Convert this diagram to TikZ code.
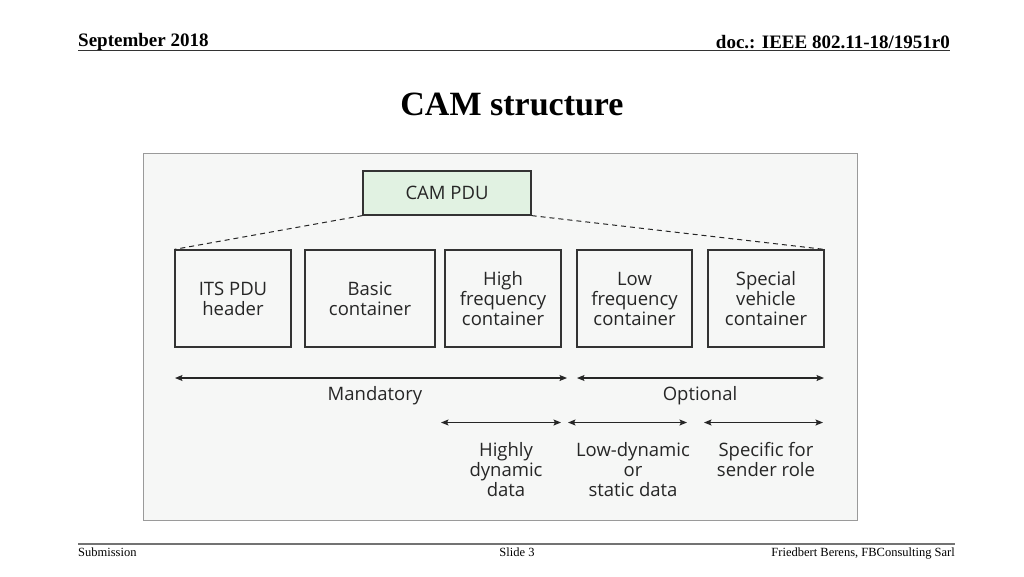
\documentclass[tikz,border=0pt]{standalone}
\usepackage{fontspec}
\setmainfont{Liberation Serif}
\newfontfamily\diagfont{Open Sans}
\usetikzlibrary{arrows.meta}
\definecolor{framefill}{HTML}{F6F7F6}
\definecolor{framedraw}{HTML}{9A9A9A}
\definecolor{pdufill}{HTML}{E1F2E2}
\definecolor{boxdraw}{HTML}{333333}
\tikzset{
  cbox/.style={draw=boxdraw, line width=1.2pt, fill=framefill, inner sep=0pt, align=center,
    font=\diagfont\fontsize{18.5}{20}\selectfont, text=black!85},
  lbl/.style={inner sep=0pt, align=center, font=\diagfont\fontsize{18.5}{20}\selectfont, text=black!85},
  dbl/.style={line width=1.1pt, draw=black!85, {Stealth[length=7.5pt,width=6pt,inset=1.5pt]}-{Stealth[length=7.5pt,width=6pt,inset=1.5pt]}},
  dash line/.style={dashed, dash pattern=on 5pt off 4pt, line width=1pt, draw=black!85},
}
\begin{document}
\begin{tikzpicture}[x=1pt,y=-1pt]
\useasboundingbox (0,0) rectangle (1024,576);
\fill[white] (0,0) rectangle (1024,576);
% header
\node[anchor=base west, inner sep=0pt, font=\bfseries\fontsize{19}{22}\selectfont] (sep) at (78,46) {September 2018};
\node[anchor=base east, inner sep=0pt, font=\bfseries\fontsize{19}{22}\selectfont] (doc) at (950,48) {doc.: IEEE 802.11-18/1951r0};
\coordinate (hl) at (78,50.5);
\coordinate (hr) at (950,50.5);
\draw[line width=1pt, black!80] (hl) -- (hr);
\node[anchor=base, inner sep=0pt, font=\bfseries\fontsize{34}{36}\selectfont] (title) at (512,115) {CAM structure};
% frame
\draw[draw=framedraw, fill=framefill, line width=1pt] (143,153) rectangle (857,520);
% CAM PDU
\node[cbox, fill=pdufill, minimum width=168pt, minimum height=44pt] (pdu) at (447,193) {CAM PDU};
% boxes
\node[cbox, minimum width=116pt, minimum height=97pt] (b1) at (233,298.5) {ITS PDU\\header};
\node[cbox, minimum width=130pt, minimum height=97pt] (b2) at (370,298.5) {Basic\\container};
\node[cbox, minimum width=116pt, minimum height=97pt] (b3) at (503,298.5) {High\\frequency\\container};
\node[cbox, minimum width=115pt, minimum height=97pt] (b4) at (634.5,298.5) {Low\\frequency\\container};
\node[cbox, minimum width=116pt, minimum height=97pt] (b5) at (766,298.5) {Special\\vehicle\\container};
\draw[dash line] (pdu.south west) -- (b1.north west);
\draw[dash line] (pdu.south east) -- (b5.north east);
% arrows row 1
\coordinate (m1) at (175,378);
\coordinate (m2) at (567,378);
\coordinate (o1) at (577,378);
\coordinate (o2) at (824,378);
\draw[dbl] (m1) -- (m2);
\draw[dbl] (o1) -- (o2);
\node[lbl] (mand) at (375,396) {Mandatory};
\node[lbl] (opt) at (700,396) {Optional};
% arrows row 2
\coordinate (h1) at (441,422.5);
\coordinate (h2) at (561,422.5);
\coordinate (l1) at (568,422.5);
\coordinate (l2) at (687,422.5);
\coordinate (s1) at (704,422.5);
\coordinate (s2) at (823,422.5);
\draw[dbl] (h1) -- (h2);
\draw[dbl] (l1) -- (l2);
\draw[dbl] (s1) -- (s2);
\node[lbl, anchor=north] (hd) at (506,442.5) {Highly\\dynamic\\data};
\node[lbl, anchor=north] (ld) at (633,442.5) {Low-dynamic\\or\\static data};
\node[lbl, anchor=north] (sr) at (766,442.5) {Specific for\\sender role};
% footer
\coordinate (fl) at (78,544);
\coordinate (fr) at (955,544);
\draw[line width=2pt, black!55] (fl) -- (fr);
\node[anchor=base west, inner sep=0pt, font=\fontsize{12.5}{14}\selectfont] (sub) at (78,556) {Submission};
\node[anchor=base, inner sep=0pt, font=\fontsize{12.5}{14}\selectfont] (slide) at (517,556) {Slide 3};
\node[anchor=base east, inner sep=0pt, font=\fontsize{12.5}{14}\selectfont] (auth) at (955,556) {Friedbert Berens, FBConsulting Sarl};
\end{tikzpicture}
\end{document}
